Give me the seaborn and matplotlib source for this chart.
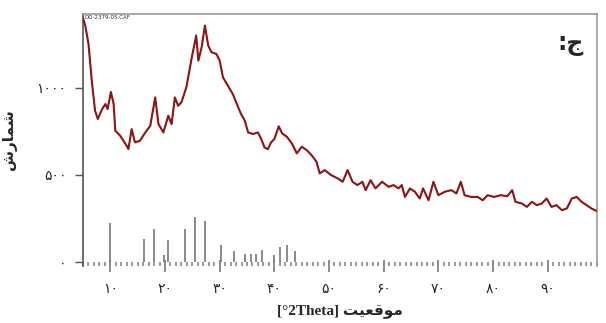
import matplotlib
matplotlib.use("Agg")
import matplotlib.pyplot as plt
from matplotlib.ticker import MultipleLocator
import seaborn as sns
import pandas as pd

# Measured diffraction pattern (2-theta in degrees, intensity in counts)
two_theta = [
    5.0, 5.4, 6.0, 6.6, 7.2, 7.7, 8.5, 9.1, 9.5, 10.1,
    10.6, 10.9, 11.8, 12.4, 13.0, 13.3, 13.9, 14.5, 15.4, 16.4,
    17.3, 18.2, 18.8, 19.7, 20.6, 21.2, 21.8, 22.4, 23.0, 23.9,
    24.9, 25.7, 26.1, 26.7, 27.3, 27.9, 28.5, 29.4, 30.0, 30.6,
    31.5, 32.4, 33.0, 33.9, 34.6, 35.2, 36.1, 37.0, 37.6, 38.2,
    38.8, 39.4, 40.0, 40.8, 41.4, 42.3, 43.2, 44.1, 45.0, 45.9,
    46.8, 47.7, 48.3, 49.2, 50.4, 51.6, 52.5, 53.4, 54.3, 55.2,
    56.1, 56.7, 57.6, 58.5, 59.7, 60.9, 61.8, 62.7, 63.3, 63.9,
    64.8, 65.7, 66.6, 67.2, 68.2, 69.1, 70.0, 71.2, 72.4, 73.3,
    74.1, 74.8, 76.0, 77.2, 78.1, 79.0, 80.2, 81.4, 82.6, 83.5,
    84.1, 85.3, 86.2, 87.1, 88.0, 88.9, 89.8, 90.7, 91.6, 92.6,
    93.5, 94.4, 95.3, 96.2, 97.1, 98.0, 98.9,
]
counts = [
    1400, 1360, 1253, 1042, 870, 822, 879, 908, 879, 977,
    908, 755, 726, 697, 668, 649, 764, 688, 697, 745,
    783, 946, 793, 745, 841, 793, 946, 898, 918, 1004,
    1176, 1301, 1157, 1234, 1358, 1243, 1205, 1195, 1157, 1061,
    1013, 965, 918, 851, 812, 745, 736, 745, 707, 659,
    649, 688, 707, 780, 740, 720, 682, 625, 663, 644,
    615, 577, 510, 529, 500, 481, 462, 529, 462, 443,
    462, 414, 471, 424, 462, 433, 443, 424, 443, 375,
    424, 405, 366, 424, 356, 462, 385, 405, 414, 395,
    462, 385, 375, 375, 356, 385, 375, 385, 379, 414,
    347, 337, 318, 347, 328, 337, 366, 318, 328, 299,
    309, 366, 375, 347, 328, 309, 295,
]

# Reference pattern peak positions and relative heights
ref_pos = [10.0, 16.1, 17.9, 19.9, 20.5, 23.6, 25.4, 27.3, 30.3,
           32.6, 34.7, 35.7, 36.6, 37.8, 40.0, 41.0, 42.3, 43.7]
ref_height = [225, 135, 190, 40, 126, 190, 260, 235, 100,
              63, 50, 50, 50, 70, 40, 85, 100, 63]

x_ticks = [10, 20, 30, 40, 50, 60, 70, 80, 90]
y_ticks = [0, 500, 1000]
file_name = "DD-2379-05.CAF"

PERSIAN = str.maketrans("0123456789", "۰۱۲۳۴۵۶۷۸۹")


def fa(n):
    return str(n).translate(PERSIAN)


# Arabic-script labels written in shaped presentation forms, visual order
x_label = "[°2Theta] " + "\uFE96\uFEF4\uFECC\uFED7\uFEEE\uFEE3"   # موقعیت
y_label = "\uFEB5\uFEAD\uFE8E\uFEE4\uFEB7"                          # شمارش
panel_tag = ":\uFE9D"                                                # ج:

sns.set_theme(style="white")
plt.rcParams["font.family"] = ["Liberation Serif", "DejaVu Sans"]

fig = plt.figure(figsize=(6.06, 3.23), dpi=100)
ax = fig.add_axes([0.137, 0.176, 0.848, 0.781])

df = pd.DataFrame({"two_theta": two_theta, "counts": counts})
sns.lineplot(data=df, x="two_theta", y="counts", ax=ax,
             color="#c00000", linewidth=1.5, zorder=3)
sns.lineplot(data=df, x="two_theta", y="counts", ax=ax,
             color="#3a3a3a", linewidth=0.6, alpha=0.9, zorder=4)

ax.vlines(ref_pos, 0, ref_height, color="#777777", linewidth=1.2, zorder=2)

ax.set_xlim(5, 99)
ax.set_ylim(-22, 1425)

ax.set_xticks(x_ticks)
ax.set_xticklabels([fa(v) for v in x_ticks], fontsize=10)
ax.xaxis.set_minor_locator(MultipleLocator(1))
ax.set_yticks(y_ticks)
ax.set_yticklabels([fa(v) for v in y_ticks], fontsize=10)

ax.tick_params(axis="x", which="major", direction="inout", length=8,
               width=1.2, color="#777777", pad=8, bottom=True)
ax.tick_params(axis="x", which="minor", direction="in", length=3,
               width=1.2, color="#888888", bottom=True)
ax.tick_params(axis="y", which="major", direction="out", length=6,
               width=1.0, color="#555555", pad=6, left=True)

for side in ["top", "right"]:
    ax.spines[side].set_color("#999999")
    ax.spines[side].set_linewidth(1.2)
ax.spines["left"].set_color("#555555")
ax.spines["left"].set_linewidth(1.2)
ax.spines["bottom"].set_visible(False)

ax.set_xlabel(x_label, fontsize=11, fontweight="bold", labelpad=6)
ax.set_ylabel(y_label, fontsize=11, fontweight="bold", labelpad=14)

ax.text(0.003, 0.995, file_name, transform=ax.transAxes, fontsize=4,
        family=["DejaVu Sans"], color="#333333", va="top", ha="left")
ax.text(0.975, 0.93, panel_tag, transform=ax.transAxes, fontsize=17,
        fontweight="bold", family=["DejaVu Sans"], va="top", ha="right")

fig.savefig("out.png", dpi=100)
